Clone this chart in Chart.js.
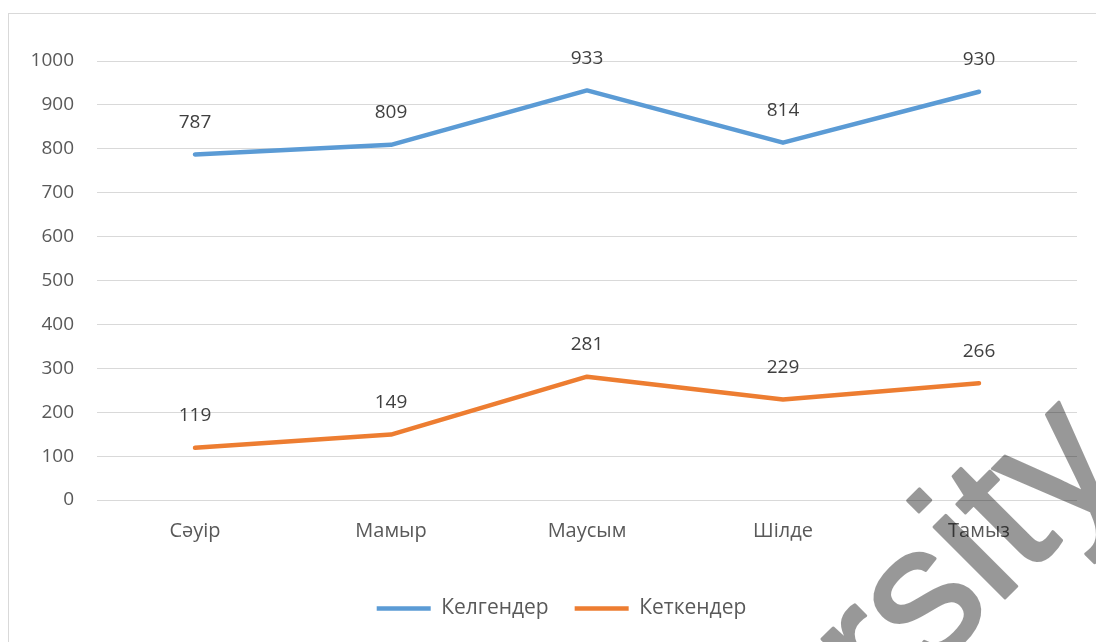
<!DOCTYPE html>
<html lang="kk">
<head>
    <meta charset="UTF-8">
    <title>Келгендер / Кеткендер</title>
    <script src="https://cdn.jsdelivr.net/npm/chart.js@4"></script>
    <style>
        html, body { margin: 0; padding: 0; background: #fff; }
        .wrap { width: 1096px; height: 642px; position: relative; }
    </style>
</head>
<body>
    <div class="wrap">
        <canvas id="chartMonths" width="1096" height="642"></canvas>
    </div>
<script>
    const months = ['Сәуір', 'Мамыр', 'Маусым', 'Шілде', 'Тамыз'];
    const arrived = [787, 809, 933, 814, 930];
    const departed = [119, 149, 281, 229, 266];
    const yTicks = [0, 100, 200, 300, 400, 500, 600, 700, 800, 900, 1000];

    const textFont = "'Open Sans', 'DejaVu Sans', sans-serif";

    // frame around the chart, like the spreadsheet chart border
    const framePlugin = {
        id: 'frame',
        beforeDraw(chart) {
            const ctx = chart.ctx;
            ctx.save();
            ctx.fillStyle = '#fff';
            ctx.fillRect(0, 0, chart.width, chart.height);
            ctx.strokeStyle = '#d9d9d9';
            ctx.lineWidth = 1;
            ctx.strokeRect(8.5, 13.5, chart.width + 10, chart.height + 10);
            ctx.restore();
        }
    };

    // legend sits centred under the plot area, not the whole canvas
    const legendShift = {
        id: 'legendShift',
        afterLayout(chart) {
            const lg = chart.legend;
            if (lg) {
                lg.left += 23;
                lg.right += 23;
            }
        }
    };

    // value labels above each point
    const valueLabels = {
        id: 'valueLabels',
        afterDatasetsDraw(chart) {
            const ctx = chart.ctx;
            ctx.save();
            ctx.font = '19px ' + textFont;
            ctx.fillStyle = '#404040';
            ctx.textAlign = 'center';
            ctx.textBaseline = 'middle';
            chart.data.datasets.forEach((ds, i) => {
                chart.getDatasetMeta(i).data.forEach((pt, j) => {
                    ctx.fillText(ds.data[j], pt.x, pt.y - 32);
                });
            });
            ctx.restore();
        }
    };

    // watermark fragment over the bottom right corner
    const watermark = {
        id: 'watermark',
        afterDraw(chart) {
            const off = document.createElement('canvas');
            off.width = chart.width;
            off.height = chart.height;
            const o = off.getContext('2d');
            o.translate(884, 719);
            o.rotate(-45 * Math.PI / 180);
            o.font = "190px 'Liberation Sans', Arial, sans-serif";
            o.fillStyle = '#000';
            o.strokeStyle = '#000';
            o.lineWidth = 3;
            o.lineJoin = 'round';
            o.fillText('rsity', 0, 0);
            o.strokeText('rsity', 0, 0);

            const ctx = chart.ctx;
            ctx.save();
            ctx.globalAlpha = 0.4;
            ctx.drawImage(off, 0, 0);
            ctx.restore();
        }
    };

    const config = {
        type: 'line',
        data: {
            labels: months,
            datasets: [
                {
                    label: 'Келгендер',
                    data: arrived,
                    borderColor: '#5B9BD5',
                    backgroundColor: '#5B9BD5',
                    borderWidth: 4.5,
                    borderCapStyle: 'round',
                    borderJoinStyle: 'round',
                    pointRadius: 0,
                    tension: 0
                },
                {
                    label: 'Кеткендер',
                    data: departed,
                    borderColor: '#ED7D31',
                    backgroundColor: '#ED7D31',
                    borderWidth: 4.5,
                    borderCapStyle: 'round',
                    borderJoinStyle: 'round',
                    pointRadius: 0,
                    tension: 0
                }
            ]
        },
        options: {
            responsive: false,
            animation: false,
            layout: {
                padding: { top: 61, right: 19, left: 0, bottom: 13 }
            },
            plugins: {
                legend: {
                    position: 'bottom',
                    labels: {
                        usePointStyle: true,
                        pointStyle: 'line',
                        pointStyleWidth: 54,
                        padding: 26,
                        color: '#595959',
                        font: { family: textFont, size: 21 }
                    }
                },
                tooltip: { enabled: false }
            },
            scales: {
                x: {
                    offset: true,
                    grid: { display: false, drawTicks: false },
                    border: { display: false },
                    ticks: {
                        color: '#595959',
                        padding: 19,
                        font: { family: textFont, size: 20 }
                    },
                    afterFit(scale) { scale.height = 72; }
                },
                y: {
                    min: 0,
                    max: 1000,
                    afterBuildTicks(scale) {
                        scale.ticks = yTicks.map(v => ({ value: v }));
                    },
                    grid: { color: '#d9d9d9', lineWidth: 1, drawTicks: false },
                    border: { display: false },
                    ticks: {
                        color: '#595959',
                        padding: 23,
                        font: { family: textFont, size: 19 },
                        callback: v => String(v)
                    },
                    afterFit(scale) { scale.width = 97; }
                }
            }
        },
        plugins: [framePlugin, legendShift, valueLabels, watermark]
    };

    new Chart(document.getElementById('chartMonths'), config);
</script>
</body>
</html>
